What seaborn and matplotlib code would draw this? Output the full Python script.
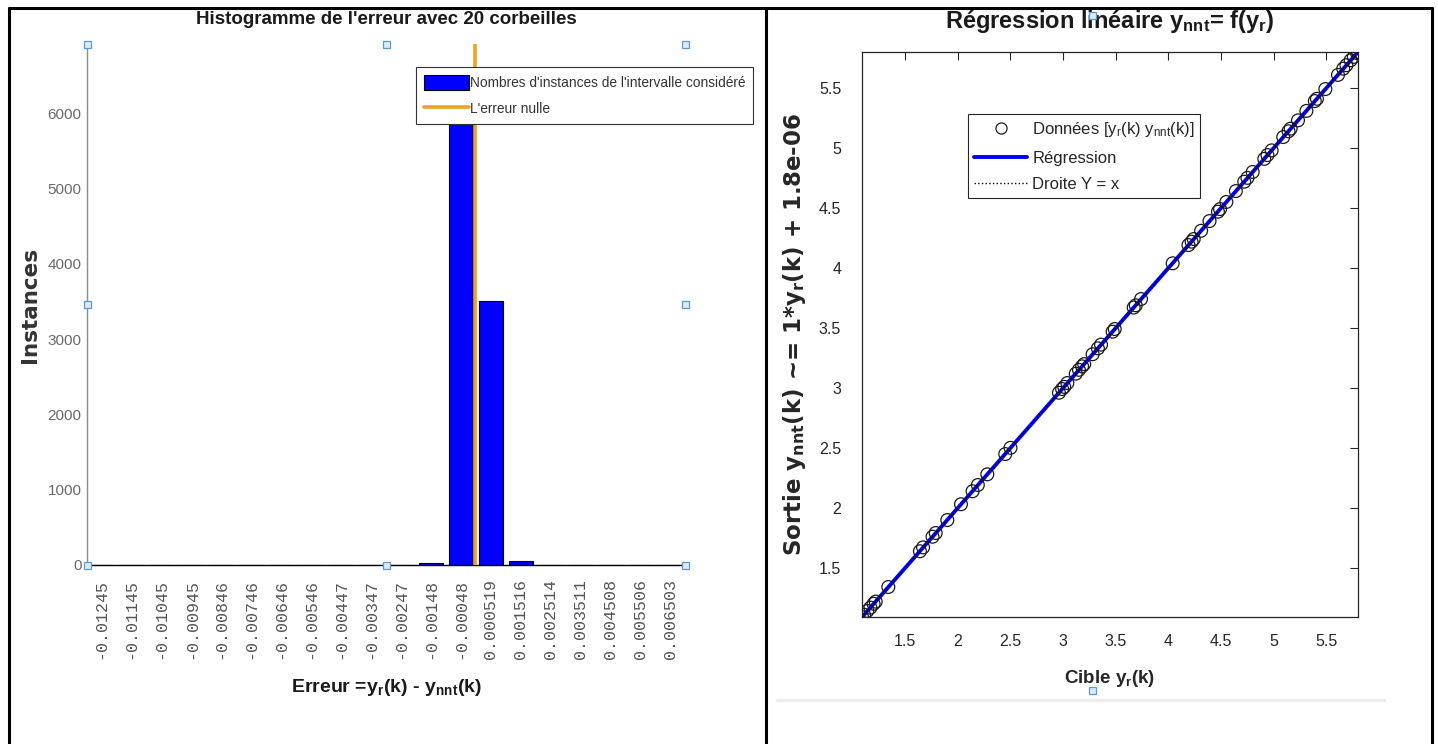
import numpy as np
import pandas as pd
import matplotlib
matplotlib.use("Agg")
import matplotlib.pyplot as plt
import matplotlib.patches as mpatches
from matplotlib.lines import Line2D
from matplotlib import ticker
import seaborn as sns

# ---------------- histogram of the error (20 bins) ----------------
bin_labels = ["-0.01245", "-0.01145", "-0.01045", "-0.00945", "-0.00846",
              "-0.00746", "-0.00646", "-0.00546", "-0.00447", "-0.00347",
              "-0.00247", "-0.00148", "-0.00048", "0.000519", "0.001516",
              "0.002514", "0.003511", "0.004508", "0.005506", "0.006503"]
bin_counts = [0, 0, 0, 0, 0, 0, 0, 0, 0, 0,
              0, 30, 6450, 3500, 55, 0, 0, 0, 0, 0]
zero_error = 0.0
hist_ymax = 6920

# ---------------- regression: network output vs target ----------------
target = [1.09, 1.11, 1.14, 1.17, 1.20, 1.22, 1.34, 1.64, 1.67, 1.76,
          1.79, 1.90, 2.03, 2.14, 2.19, 2.28, 2.45, 2.50, 2.96, 2.99,
          3.01, 3.04, 3.12, 3.15, 3.18, 3.20, 3.28, 3.33, 3.36, 3.47,
          3.49, 3.67, 3.69, 3.74, 4.04, 4.19, 4.22, 4.24, 4.31, 4.39,
          4.47, 4.49, 4.55, 4.64, 4.72, 4.75, 4.80, 4.91, 4.94, 4.98,
          5.09, 5.14, 5.16, 5.23, 5.31, 5.39, 5.41, 5.49, 5.61, 5.66,
          5.69, 5.73, 5.76, 5.79, 5.80]
output = [1.091, 1.110, 1.141, 1.169, 1.201, 1.219, 1.341, 1.639, 1.671, 1.760,
          1.791, 1.899, 2.031, 2.139, 2.191, 2.280, 2.449, 2.501, 2.960, 2.991,
          3.009, 3.041, 3.119, 3.151, 3.180, 3.199, 3.281, 3.330, 3.361, 3.469,
          3.491, 3.670, 3.689, 3.741, 4.039, 4.191, 4.219, 4.241, 4.310, 4.391,
          4.469, 4.491, 4.550, 4.641, 4.719, 4.751, 4.800, 4.909, 4.941, 4.980,
          5.091, 5.139, 5.161, 5.230, 5.309, 5.391, 5.410, 5.491, 5.609, 5.661,
          5.690, 5.731, 5.759, 5.791, 5.800]
reg_slope = 1.0
reg_intercept = 1.8e-06

# ---------------- style ----------------
sns.set_style("white")
SANS = ["Liberation Sans", "DejaVu Sans"]
WIDE = ["DejaVu Sans"]
MONO = ["Liberation Mono", "DejaVu Sans Mono"]
plt.rcParams["font.family"] = SANS

W, H = 1438, 744
fig = plt.figure(figsize=(W / 100, H / 100), dpi=100, facecolor="white")

BLUE = "#0000ff"
ORANGE = "#eea21f"

# ================= left: histogram =================
ax1 = fig.add_axes([87 / W, 1 - 565 / H, (685 - 87) / W, (565 - 44) / H])
centers = np.array([float(s) for s in bin_labels])
step = np.mean(np.diff(centers))
hist_df = pd.DataFrame({"centre": centers, "instances": bin_counts})
sns.barplot(data=hist_df, x="centre", y="instances", native_scale=True,
            color=BLUE, saturation=1, edgecolor="black", linewidth=0.8,
            width=0.8, errorbar=None, ax=ax1, zorder=2)
ax1.axvline(zero_error, color=ORANGE, lw=2.6, zorder=3)

ax1.set_xlim(centers[0] - 0.47 * step, centers[-1] + 0.47 * step)
ax1.set_ylim(0, hist_ymax)
ax1.set_xticks(centers)
ax1.set_xticklabels(bin_labels, rotation=90, family=MONO, fontsize=12,
                    color="#555555")
ax1.set_yticks(np.arange(0, 7000, 1000))
ax1.set_yticklabels([f"{v:d}" for v in range(0, 7000, 1000)], family=SANS,
                    fontsize=11, color="#6a6a6a")
ax1.tick_params(axis="x", direction="in", length=5, width=0.8, pad=10,
                color="#444444")
ax1.tick_params(axis="y", direction="in", length=5, width=0.8, pad=4,
                color="#888888")
for side in ("top", "right"):
    ax1.spines[side].set_visible(False)
ax1.spines["left"].set_color("#8c8c8c")
ax1.spines["left"].set_linewidth(1.0)
ax1.spines["bottom"].set_color("black")
ax1.spines["bottom"].set_linewidth(1.0)
ax1.set_facecolor("none")

fig.text((87 + 685) / 2 / W, 1 - 20 / H,
         "Histogramme de l'erreur avec 20 corbeilles",
         ha="center", va="center", family=SANS, fontweight="bold",
         fontsize=13.5, color="#1a1a1a")
ax1.set_xlabel(r"Erreur =$\mathregular{y_r}$(k) - $\mathregular{y_{nnt}}$(k)",
               family=SANS, fontweight="bold", fontsize=14,
               color="#1a1a1a", labelpad=13)
ax1.set_ylabel("Instances", family=WIDE, fontweight="bold", fontsize=15.5,
               color="#333333", labelpad=5)

hist_handles = [mpatches.Patch(facecolor=BLUE, edgecolor="black", lw=0.8),
                Line2D([], [], color=ORANGE, lw=2.6)]
leg1 = ax1.legend(hist_handles,
                  ["Nombres d'instances de l'intervalle considéré",
                   "L'erreur nulle"],
                  loc="upper left", bbox_to_anchor=(416 / W, 1 - 67 / H),
                  bbox_transform=fig.transFigure, frameon=True, fancybox=False,
                  framealpha=1, edgecolor="#333333",
                  prop={"family": SANS, "size": 9.9},
                  handlelength=3.3, handleheight=1.35, handletextpad=0.1,
                  labelspacing=0.8, borderpad=0.55, borderaxespad=0)
leg1.get_frame().set_linewidth(0.8)
for t in leg1.get_texts():
    t.set_color("#333333")

# ================= right: linear regression =================
ax2 = fig.add_axes([862 / W, 1 - 617 / H, (1358 - 862) / W, (617 - 52) / H])
reg_df = pd.DataFrame({"cible": target, "sortie": output})
xfit = np.array([min(target), max(target)])
fit_df = pd.DataFrame({"x": xfit, "y": reg_slope * xfit + reg_intercept})
ident_df = pd.DataFrame({"x": xfit, "y": xfit})

sns.lineplot(data=fit_df, x="x", y="y", color=BLUE, lw=2.8, ax=ax2, zorder=2)
sns.lineplot(data=ident_df, x="x", y="y", color="black", lw=1.0,
             linestyle=":", ax=ax2, zorder=3)
sns.scatterplot(data=reg_df, x="cible", y="sortie", marker="o", s=85,
                facecolors="none", edgecolor="#1a1a1a", linewidth=0.9,
                ax=ax2, zorder=4)

ax2.set_xlim(min(target), max(target))
ax2.set_ylim(min(output), max(output))
tick_vals = np.arange(1.5, 5.51, 0.5)
fmt = ticker.FuncFormatter(lambda v, p: f"{v:g}")
ax2.set_xticks(tick_vals)
ax2.set_yticks(tick_vals)
ax2.xaxis.set_major_formatter(fmt)
ax2.yaxis.set_major_formatter(fmt)
ax2.tick_params(axis="both", direction="in", length=6, width=0.8,
                top=True, right=True, labelsize=11.5, labelcolor="#262626",
                color="#262626")
ax2.tick_params(axis="x", pad=12)
ax2.tick_params(axis="y", pad=15)
for sp in ax2.spines.values():
    sp.set_visible(True)
    sp.set_color("#262626")
    sp.set_linewidth(0.9)

ax2.set_title(r"Régression linéaire $\mathregular{y_{nnt}}$= f($\mathregular{y_r}$)",
              fontweight="bold", fontsize=17, color="#1a1a1a", pad=17)
ax2.set_xlabel(r"Cible $\mathregular{y_r}$(k)", fontweight="bold",
               fontsize=13.5, color="#262626", labelpad=14)
ax2.set_ylabel(r"Sortie $\mathregular{y_{nnt}}$(k) ~= "
               + f"{reg_slope:g}*" + r"$\mathregular{y_r}$(k) + "
               + f"{reg_intercept:.1e}",
               family=WIDE, fontweight="bold", fontsize=16.5, color="#262626",
               labelpad=8)

reg_handles = [Line2D([], [], marker="o", ls="none", mfc="none",
                      mec="#1a1a1a", ms=8, mew=0.9),
               Line2D([], [], color=BLUE, lw=2.8),
               Line2D([], [], color="black", lw=1.0, ls=":")]
leg2 = ax2.legend(reg_handles,
                  [r"Données [$\mathregular{y_r}$(k) $\mathregular{y_{nnt}}$(k)]",
                   "Régression", "Droite Y = x"],
                  loc="upper left", bbox_to_anchor=(968 / W, 1 - 114 / H),
                  bbox_transform=fig.transFigure, frameon=True, fancybox=False,
                  framealpha=1, edgecolor="#262626", numpoints=1,
                  prop={"family": SANS, "size": 12},
                  handlelength=3.2, handletextpad=0.3, labelspacing=0.7,
                  borderpad=0.35, borderaxespad=0)
leg2.get_frame().set_linewidth(0.8)
for t in leg2.get_texts():
    t.set_color("#262626")

# ================= page overlay: table frame and picture handles =================
ov = fig.add_axes([0, 0, 1, 1], zorder=10)
ov.set_xlim(0, W)
ov.set_ylim(H, 0)
ov.axis("off")
frame_kw = dict(color="black", lw=2.2, solid_capstyle="butt")
ov.plot([9, 9], [7, H], **frame_kw)
ov.plot([766, 766], [7, H], **frame_kw)
ov.plot([1432, 1432], [7, H], **frame_kw)
ov.plot([8, 1433], [8, 8], **frame_kw)
ov.plot([777, 1384], [700, 700], color="#ececec", lw=2.5)


def handle(x, y):
    ov.add_patch(mpatches.Rectangle((x - 3.5, y - 3.5), 7, 7,
                                    facecolor="#dcebf8", edgecolor="#5b9bd5",
                                    lw=0.9))


b = ax1.get_position()
hx = [b.x0 * W, (b.x0 + b.x1) / 2 * W, b.x1 * W]
hy = [(1 - b.y1) * H, (1 - (b.y0 + b.y1) / 2) * H, (1 - b.y0) * H]
for i, yy in enumerate(hy):
    for j, xx in enumerate(hx):
        if i == 1 and j == 1:
            continue
        handle(xx, yy)
handle(1092, 15)
handle(1092, 690)

fig.savefig("out.png", dpi=100, facecolor="white")
